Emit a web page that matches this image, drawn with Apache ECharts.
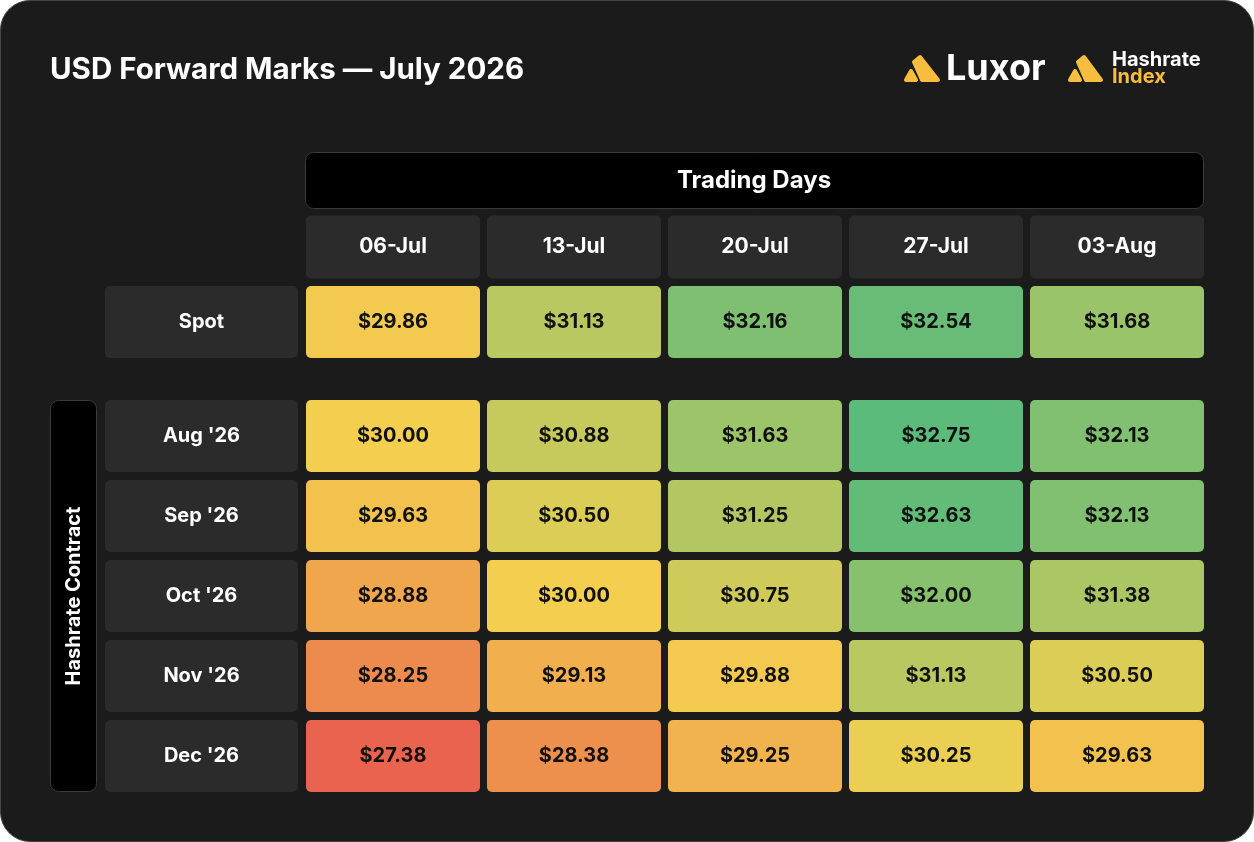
<!DOCTYPE html>
<html><head><meta charset="utf-8">
<script src="https://cdn.jsdelivr.net/npm/echarts@6/dist/echarts.min.js"></script>
<style>
html,body{margin:0;padding:0;background:#ffffff;width:1254px;height:842px;overflow:hidden}
#card{position:absolute;left:0;top:0;width:1252px;height:840px;border:1px solid #444;border-radius:30px;background:#1b1b1b;overflow:hidden}
#c{position:absolute;left:-1px;top:0px;width:1254px;height:842px}
</style></head><body>
<div id="card"><div id="c"></div></div>
<script>
var title = 'USD Forward Marks — July 2026';
var days = ['06-Jul','13-Jul','20-Jul','27-Jul','03-Aug'];
var spotLabel = ['Spot'];
var spotValues = [29.86, 31.13, 32.16, 32.54, 31.68];
var contracts = ["Aug '26","Sep '26","Oct '26","Nov '26","Dec '26"];
var contractValues = [
  [30.00, 30.88, 31.63, 32.75, 32.13],
  [29.63, 30.50, 31.25, 32.63, 32.13],
  [28.88, 30.00, 30.75, 32.00, 31.38],
  [28.25, 29.13, 29.88, 31.13, 30.50],
  [27.38, 28.38, 29.25, 30.25, 29.63]
];
var FONT = 'Inter, "Noto Sans", sans-serif';
var allVals = spotValues.concat.apply(spotValues, contractValues);
var vmin = Math.min.apply(null, allVals), vmax = Math.max.apply(null, allVals);

function cellRender(gapX, gapY, radius, fillFn, textFn, textStyle){
  return function(params, api){
    var p = api.coord([api.value(0), api.value(1)]);
    var s = api.size([1,1]);
    var w = s[0]-gapX, h = s[1]-gapY;
    return {type:'group', children:[{
      type:'rect',
      shape:{x:p[0]-w/2, y:p[1]-h/2, width:w, height:h, r:radius},
      style:{fill: fillFn(api), stroke:null},
      textContent:{style:{text:textFn(api, params), font:textStyle.font, fill:textStyle.fill}},
      textConfig:{position:'inside'}
    }]};
  };
}

var spotData = spotValues.map(function(v,i){return [i,0,v];});
var cData = [];
contractValues.forEach(function(row,r){row.forEach(function(v,c){cData.push([c,r,v]);});});
var headData = days.map(function(d,i){return [i,0];});
var spotLblData = spotLabel.map(function(d,i){return [0,i];});
var cLblData = contracts.map(function(d,i){return [0,i];});

function valueFill(api){ return api.visual('color'); }
function gray(){ return '#2b2b2b'; }
function money(api){ return '$'+api.value(2).toFixed(2); }

var chart = echarts.init(document.getElementById('c'), null, {renderer:'canvas'});
chart.setOption({
  backgroundColor:'transparent',
  animation:false,
  title:{text:title, left:45, top:49, textStyle:{color:'#ffffff', fontFamily:FONT, fontWeight:'bold', fontSize:29.5}},
  visualMap:{show:false, type:'continuous', min:vmin, max:vmax, dimension:2, seriesIndex:[1,2],
    inRange:{color:['#e9634f','#efa04d','#f4d14f','#a9c665','#5cba7a']}},
  grid:[
    {left:302.5, top:210.5, width:905, height:71},
    {left:302.5, top:281, width:905, height:80},
    {left:302.5, top:395, width:905, height:400},
    {left:101.5, top:281, width:200, height:80},
    {left:101.5, top:395, width:200, height:400}
  ],
  xAxis:[
    {type:'category', gridIndex:0, data:days, show:false},
    {type:'category', gridIndex:1, data:days, show:false},
    {type:'category', gridIndex:2, data:days, show:false},
    {type:'category', gridIndex:3, data:['l'], show:false},
    {type:'category', gridIndex:4, data:['l'], show:false}
  ],
  yAxis:[
    {type:'category', gridIndex:0, data:['h'], show:false},
    {type:'category', gridIndex:1, data:spotLabel, show:false},
    {type:'category', gridIndex:2, data:contracts, inverse:true, show:false},
    {type:'category', gridIndex:3, data:spotLabel, show:false},
    {type:'category', gridIndex:4, data:contracts, inverse:true, show:false}
  ],
  series:[
    {type:'custom', xAxisIndex:0, yAxisIndex:0, data:headData,
      renderItem:cellRender(7,8,5,gray, function(api){return days[api.value(0)];}, {font:'bold 21px '+FONT, fill:'#ffffff'})},
    {type:'custom', xAxisIndex:1, yAxisIndex:1, data:spotData, encode:{x:0,y:1},
      renderItem:cellRender(7,8,5,valueFill, money, {font:'bold 20px '+FONT, fill:'#111111'})},
    {type:'custom', xAxisIndex:2, yAxisIndex:2, data:cData, encode:{x:0,y:1},
      renderItem:cellRender(7,8,5,valueFill, money, {font:'bold 20px '+FONT, fill:'#111111'})},
    {type:'custom', xAxisIndex:3, yAxisIndex:3, data:spotLblData,
      renderItem:cellRender(7,8,5,gray, function(api){return spotLabel[api.value(1)];}, {font:'bold 20px '+FONT, fill:'#ffffff'})},
    {type:'custom', xAxisIndex:4, yAxisIndex:4, data:cLblData,
      renderItem:cellRender(7,8,5,gray, function(api){return contracts[api.value(1)];}, {font:'bold 20px '+FONT, fill:'#ffffff'})}
  ],
  graphic:[
    {type:'rect', shape:{x:305.5, y:151.5, width:898, height:56, r:8}, style:{fill:'#000000', stroke:'#3a3a3a', lineWidth:1}},
    {type:'text', x:754, y:179.5, style:{text:'Trading Days', font:'bold 24px '+FONT, fill:'#ffffff', align:'center', verticalAlign:'middle'}},
    {type:'rect', shape:{x:50.5, y:399.5, width:46, height:391, r:8}, style:{fill:'#000000', stroke:'#3a3a3a', lineWidth:1}},
    {type:'text', x:74, y:595, rotation:Math.PI/2, style:{text:'Hashrate Contract', font:'bold 20px '+FONT, fill:'#ffffff', align:'center', verticalAlign:'middle'}},
    {type:'polygon', shape:{points:[[914,61],[920,56],[938,79],[922,79]]}, style:{fill:'#f7bd3f', stroke:'#f7bd3f', lineWidth:4, lineJoin:'round'}},
    {type:'polygon', shape:{points:[[906,79],[911,70],[916,79]]}, style:{fill:'#f7bd3f', stroke:'#f7bd3f', lineWidth:4, lineJoin:'round'}},
    {type:'text', x:946, y:68, style:{text:'Luxor', font:'bold 36px '+FONT, fill:'#ffffff', verticalAlign:'middle'}},
    {type:'polygon', shape:{points:[[1078,61],[1084,56],[1101,79],[1086,79]]}, style:{fill:'#f7bd3f', stroke:'#f7bd3f', lineWidth:4, lineJoin:'round'}},
    {type:'polygon', shape:{points:[[1070,79],[1075,70],[1080,79]]}, style:{fill:'#f7bd3f', stroke:'#f7bd3f', lineWidth:4, lineJoin:'round'}},
    {type:'text', x:1112, y:59, style:{text:'Hashrate', font:'bold 20px '+FONT, fill:'#ffffff', verticalAlign:'middle'}},
    {type:'text', x:1112, y:76, style:{text:'Index', font:'bold 20px '+FONT, fill:'#f7bd3f', verticalAlign:'middle'}}
  ]
});
</script></body></html>
